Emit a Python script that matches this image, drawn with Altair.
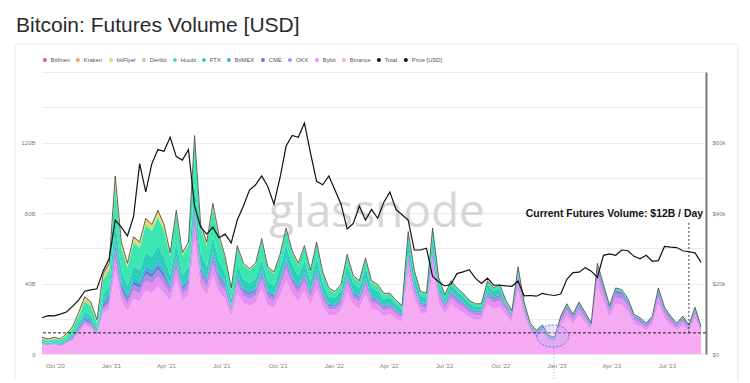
import altair as alt
import pandas as pd

# ---------------- data ----------------
start_date = "2020-09-10"
step = "10D"

# total futures volume, billions USD
total_volume = [9.5, 8.5, 9.5, 8.5, 11.5, 15.5, 23.5, 32.5, 29.5, 19.5,
                45.5, 51.5, 101, 63.5, 51.5, 66.5, 63.5, 77, 73.5, 81.5,
                73.5, 57.5, 81.5, 57.5, 63.5, 124, 73.5, 63.5, 85.5, 67.5,
                55.5, 37.5, 61.5, 51.5, 48.5, 51.5, 65.5, 49.5, 46.5, 56.5,
                71.5, 58.5, 51.5, 61.5, 47.5, 63.5, 46.5, 37.5, 35.5, 39.5,
                56.5, 44.5, 41.5, 54.5, 41.5, 39.5, 34.5, 34.5, 30.5, 27.5,
                69.5, 47.5, 35.5, 34.5, 71.5, 43.5, 33.5, 41.5, 37.5, 34.5,
                30.5, 28.5, 28.5, 41.5, 37.5, 39.5, 30.5, 24.5, 49.5, 29.5,
                17.5, 13.5, 16.5, 10.5, 9.5, 21.5, 28.5, 22.5, 29.5, 23.5,
                17.5, 51.5, 39.5, 27.5, 37.5, 36.5, 31.5, 22.5, 20.5, 17.5,
                21.5, 37.5, 26.5, 21.5, 17.5, 21.5, 16.5, 26.5, 15.5]

# BTC price, thousands USD
price_k = [10.3, 10.9, 10.8, 11.3, 11.9, 13.5, 15.3, 17.8, 18.2, 18.5,
           23.5, 27.0, 38.0, 36.0, 33.5, 39.0, 54.0, 46.0, 54.0, 58.0,
           57.5, 61.5, 56.0, 55.0, 58.0, 42.0, 36.0, 34.0, 36.0, 33.0,
           34.0, 31.5, 38.0, 42.0, 46.5, 48.0, 50.5, 47.5, 42.5, 50.0,
           59.0, 62.0, 61.5, 65.5, 57.0, 49.0, 48.0, 50.5, 46.5, 42.5,
           35.5, 37.0, 42.0, 38.0, 41.0, 38.5, 43.0, 46.0, 41.0, 39.5,
           38.0, 29.5, 29.5, 30.0, 22.0, 20.5, 19.3, 19.8, 22.8, 23.3,
           23.9, 21.5, 20.0, 21.5, 19.5, 19.5, 19.3, 19.2, 20.7, 16.5,
           16.6, 16.4, 17.2, 16.8, 16.6, 17.0, 21.2, 23.1, 23.2, 24.5,
           23.5, 21.7, 28.0, 28.4, 28.0, 29.5, 29.3, 27.7, 27.0, 28.0,
           26.3, 26.5, 30.5, 30.3, 30.2, 29.3, 29.0, 28.7, 26.0]

# legend order
series_names = ["Bitfinex", "Kraken", "bitFlyer", "Deribit", "Huobi", "FTX",
                "BitMEX", "CME", "OKX", "Bybit", "Binance", "Total", "Price [USD]"]
series_colors = ["#f0506e", "#f3a15a", "#e6dc55", "#a9e27c", "#3be6b0", "#2ad0b8",
                 "#3ab0dc", "#5a7fd6", "#b08ae6", "#e890f2", "#f6aaf3", "#111111", "#111111"]

# stacking order, bottom first
stack_order = ["Binance", "Bybit", "OKX", "CME", "BitMEX", "FTX", "Huobi",
               "Deribit", "bitFlyer", "Kraken", "Bitfinex"]

# quarterly share (%) of each exchange, Q3 2020 ... Q3 2023
share_binance = [55, 50, 47, 52, 56, 58, 62, 66, 68, 72, 75, 76, 76]
share_bybit = [4, 5, 7, 7, 8, 9, 9, 9, 9, 10, 11, 10, 10]
share_okx = [3, 4, 5, 5, 5, 5, 5, 5, 6, 7, 7, 7, 7]
share_cme = [2, 3, 3, 2, 2, 2, 2, 2, 2, 2, 3, 3, 3]
share_bitmex = [3, 4, 3, 2, 2, 1.5, 1.5, 1, 1, 1, 1, 1, 1]
share_ftx = [6, 8, 10, 10, 10, 11, 11, 10, 9, 3, 0, 0, 0]
share_huobi = [17, 18, 20, 19, 15, 11.5, 7.5, 5.5, 4, 3, 2, 2, 2]
share_deribit = [3, 3, 2, 1.5, 1, 1, 1, 0.8, 0.5, 0.5, 0.5, 0.5, 0.5]
share_bitflyer = [4, 3, 2, 1, 0.6, 0.5, 0.5, 0.3, 0.2, 0.2, 0.2, 0.2, 0.2]
share_kraken = [2, 1.5, 0.7, 0.3, 0.2, 0.3, 0.3, 0.2, 0.1, 0.1, 0.1, 0.1, 0.1]
share_bitfinex = [1, 0.5, 0.3, 0.2, 0.2, 0.2, 0.2, 0.2, 0.2, 0.2, 0.2, 0.2, 0.2]

shares = {"Binance": share_binance, "Bybit": share_bybit, "OKX": share_okx,
          "CME": share_cme, "BitMEX": share_bitmex, "FTX": share_ftx,
          "Huobi": share_huobi, "Deribit": share_deribit, "bitFlyer": share_bitflyer,
          "Kraken": share_kraken, "Bitfinex": share_bitfinex}

current_volume = 12
current_label = "Current Futures Volume: $12B / Day"

# ---------------- tables ----------------
dates = pd.date_range(start_date, periods=len(total_volume), freq=step)
rows = []
for i, d in enumerate(dates):
    q = (d.year - 2020) * 4 + (d.month - 1) // 3 - 2
    s = sum(shares[e][q] for e in stack_order)
    for rank, e in enumerate(stack_order):
        rows.append({"date": d.strftime("%Y-%m-%d"), "exchange": e, "rank": rank,
                     "volume": total_volume[i] * shares[e][q] / s})
stack_df = pd.DataFrame(rows)
total_df = pd.DataFrame({"date": dates.strftime("%Y-%m-%d"), "total": total_volume})
price_df = pd.DataFrame({"date": dates.strftime("%Y-%m-%d"),
                         "price": [p * 1000 for p in price_k]})

# ---------------- scales / axes ----------------
W, H = 664, 282
xscale = alt.Scale(type="utc",
                   domain=[alt.DateTime(year=2020, month=9, date=10, utc=True),
                           alt.DateTime(year=2023, month=9, date=3, utc=True)])
tick_dates = [alt.DateTime(year=y, month=m, date=1, utc=True)
              for y in (2020, 2021, 2022, 2023) for m in (1, 4, 7, 10)
              if (y, m) >= (2020, 10) and (y, m) <= (2023, 7)]
xaxis = alt.Axis(values=tick_dates, grid=False,
                 labelExpr="utcFormat(datum.value, \"%b '%y\")",
                 domain=False, ticks=False, labelPadding=8, labelFontSize=6,
                 labelColor="#808080", labelFont="Liberation Sans", title=None)
yscale = alt.Scale(domain=[0, 160], nice=False, zero=True)
yaxis = alt.Axis(values=list(range(0, 161, 20)), grid=True, gridColor="#ebebeb",
                 gridWidth=1, domain=False, ticks=False, labelPadding=7,
                 labelFontSize=6, labelColor="#808080", labelFont="Liberation Sans",
                 labelExpr="datum.value % 40 == 0 && datum.value < 160 ? (datum.value == 0 ? '0' : datum.value + 'B') : ''",
                 title=None)
pscale = alt.Scale(domain=[0, 80000], nice=False, zero=True)
paxis = alt.Axis(orient="right", values=[0, 20000, 40000, 60000], grid=False,
                 domain=True, domainColor="#7a7a7a", domainWidth=2, ticks=False,
                 labelPadding=6, labelFontSize=6, labelColor="#808080",
                 labelFont="Liberation Sans",
                 labelExpr="datum.value == 0 ? '$0' : '$' + (datum.value / 1000) + 'k'",
                 title=None)

def X(field="date"):
    return alt.X(f"{field}:T", scale=xscale, axis=xaxis)

def Y(field):
    return alt.Y(f"{field}:Q", scale=yscale, axis=yaxis)

# ---------------- layers ----------------
one = pd.DataFrame({"t": [""]})

border = alt.Chart(one).mark_rect(fill="white", fillOpacity=0, stroke="#e8e8e8",
                                  strokeWidth=1).encode(
    x=alt.value(-27), x2=alt.value(696), y=alt.value(-28), y2=alt.value(340))

title = alt.Chart(pd.DataFrame({"t": ["Bitcoin: Futures Volume [USD]"]})).mark_text(
    align="left", baseline="alphabetic", fontSize=21, font="Liberation Sans",
    color="#2a2a2a").encode(text="t:N", x=alt.value(-26), y=alt.value(-40))

watermark = alt.Chart(pd.DataFrame({"t": ["glassnode"]})).mark_text(
    align="center", baseline="alphabetic", fontSize=46, font="Open Sans",
    color="#cfcfcf", opacity=0.85).encode(text="t:N", x=alt.value(335), y=alt.value(155))

area = alt.Chart(stack_df).mark_area(interpolate="linear").encode(
    x=X(),
    y=alt.Y("volume:Q", stack="zero", scale=yscale, axis=yaxis),
    color=alt.Color("exchange:N",
                    scale=alt.Scale(domain=series_names, range=series_colors),
                    legend=alt.Legend(orient="none", legendX=0, legendY=-15,
                                      direction="horizontal", title=None,
                                      symbolType="circle", symbolSize=16,
                                      symbolStrokeWidth=0, labelFontSize=5.8,
                                      labelColor="#555555", labelFont="Liberation Sans",
                                      columnPadding=5, labelOffset=3)),
    order=alt.Order("rank:Q", sort="ascending"))

total_line = alt.Chart(total_df).mark_line(color="#2e2e2e", strokeWidth=0.7).encode(
    x=X(), y=Y("total"))

cur_df = pd.DataFrame({"y": [current_volume]})
hline = alt.Chart(cur_df).mark_rule(color="#222222", strokeWidth=1,
                                    strokeDash=[3, 2]).encode(y=Y("y"))

vline_df = pd.DataFrame({"date": ["2023-08-06"], "y": [current_volume], "y2": [75]})
vline = alt.Chart(vline_df).mark_rule(color="#333333", strokeWidth=1,
                                      strokeDash=[2, 2]).encode(
    x=X(), y=Y("y"), y2="y2:Q")

ell_df = pd.DataFrame({"date": ["2022-12-26"], "y": [10.2]})
ellipse = alt.Chart(ell_df).mark_point(
    shape="M-1,0A1,0.69,0,1,0,1,0A1,0.69,0,1,0,-1,0Z", size=1024, filled=True,
    fill="#b9b2f6", fillOpacity=0.35, stroke="#5d6fe0", strokeWidth=1,
    strokeDash=[2, 1.5], opacity=1).encode(x=X(), y=Y("y"))

cross_df = pd.DataFrame({"date": ["2022-12-28"]})
cross = alt.Chart(cross_df).mark_rule(color="#7fb4f2", strokeWidth=1,
                                      strokeDash=[1, 2]).encode(
    x=X(), y=alt.value(276), y2=alt.value(312))

ann_df = pd.DataFrame({"date": ["2023-08-29"], "y": [79.5], "t": [current_label]})
annotation = alt.Chart(ann_df).mark_text(align="right", baseline="middle",
                                         fontSize=10.4, fontWeight="bold",
                                         font="Liberation Sans", color="#111111").encode(
    x=X(), y=Y("y"), text="t:N")

volume_group = alt.layer(border, title, watermark, area, total_line, hline, vline,
                         ellipse, cross, annotation)

price_line = alt.Chart(price_df).mark_line(color="#111111", strokeWidth=1.2).encode(
    x=X(), y=alt.Y("price:Q", scale=pscale, axis=paxis))

chart = alt.layer(volume_group, price_line).resolve_scale(y="independent").properties(
    width=W, height=H,
    padding={"left": 34, "top": 64, "right": 36, "bottom": 27},
    autosize=alt.AutoSizeParams(type="none"),
    background="white",
).configure_view(stroke=None)

chart.save("out.html", embed_options={"renderer": "svg", "actions": False})
